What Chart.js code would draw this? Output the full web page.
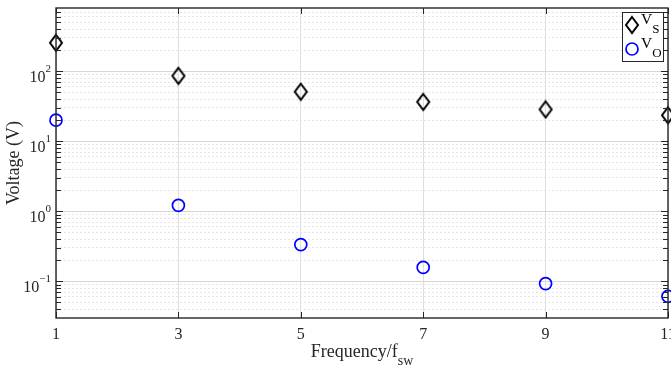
<!DOCTYPE html>
<html>
<head>
<meta charset="utf-8">
<script src="https://cdn.jsdelivr.net/npm/chart.js@4.4.1/dist/chart.umd.min.js"></script>
<style>
  html, body { margin: 0; padding: 0; background: #fff; }
</style>
</head>
<body>
<canvas id="chart" width="671" height="373"></canvas>
<script>
// harmonic order (x) and voltages
const harmonics = [1, 3, 5, 7, 9, 11]
const vs = [255, 86, 51, 36.5, 28.5, 23.5]
const vo = [20, 1.22, 0.335, 0.158, 0.093, 0.061]
const xTickValues = [1, 3, 5, 7, 9, 11]
const yDecades = [-1, 0, 1, 2]
const yMin = 0.03
const yMax = 800

const serif = "'Liberation Serif', 'Times New Roman', serif"
const axisColor = '#262626'

const isDecade = v => Math.abs(Math.log10(v) - Math.round(Math.log10(v))) < 1e-9

function diamondImage() {
  const c = document.createElement('canvas')
  c.width = 16; c.height = 20
  const g = c.getContext('2d')
  g.strokeStyle = '#000'
  g.lineWidth = 2
  g.beginPath()
  g.moveTo(8, 2); g.lineTo(14, 10); g.lineTo(8, 18); g.lineTo(2, 10)
  g.closePath()
  g.stroke()
  return c
}
const diamond = diamondImage()

function supText(ctx, base, sup, xRight, yBase) {
  ctx.font = '16px ' + serif
  const wb = ctx.measureText(base).width
  ctx.font = '11px ' + serif
  const ws = ctx.measureText(sup).width
  const x0 = xRight - wb - ws
  ctx.font = '16px ' + serif
  ctx.fillText(base, x0, yBase)
  ctx.font = '11px ' + serif
  ctx.fillText(sup, x0 + wb, yBase - 10)
}

const decor = {
  id: 'decor',
  afterDraw(chart) {
    const { ctx, chartArea: a, scales: { x, y } } = chart
    ctx.save()
    ctx.strokeStyle = axisColor
    ctx.fillStyle = axisColor
    ctx.lineWidth = 1
    const seg = (x1, y1, x2, y2) => { ctx.beginPath(); ctx.moveTo(x1, y1); ctx.lineTo(x2, y2); ctx.stroke() }
    // inward tick marks
    y.ticks.forEach(t => {
      const py = Math.round(y.getPixelForValue(t.value)) + 0.5
      const len = isDecade(t.value) ? 7 : 5
      seg(a.left, py, a.left + len, py)
      seg(a.right, py, a.right - len, py)
    })
    x.ticks.forEach(t => {
      const px = Math.round(x.getPixelForValue(t.value)) + 0.5
      seg(px, a.bottom, px, a.bottom - 6)
      seg(px, a.top, px, a.top + 6)
    })
    // box
    ctx.lineWidth = 1.4
    ctx.strokeRect(a.left, a.top, a.right - a.left, a.bottom - a.top)

    // y tick labels 10^n
    ctx.textBaseline = 'alphabetic'
    yDecades.forEach(e => {
      const py = y.getPixelForValue(Math.pow(10, e))
      supText(ctx, '10', String(e).replace('-', '\u2212'), 51, py + 11)
    })

    // axis titles
    ctx.fillStyle = axisColor
    const main = 'Frequency/f'
    ctx.font = '18px ' + serif
    const wm = ctx.measureText(main).width
    ctx.font = '14px ' + serif
    const wsub = ctx.measureText('sw').width
    const cx = (a.left + a.right) / 2
    const x0 = cx - (wm + wsub) / 2
    ctx.font = '18px ' + serif
    ctx.fillText(main, x0, 357)
    ctx.font = '14px ' + serif
    ctx.fillText('sw', x0 + wm, 365)

    ctx.save()
    ctx.translate(19, (a.top + a.bottom) / 2)
    ctx.rotate(-Math.PI / 2)
    ctx.font = '18px ' + serif
    ctx.textAlign = 'center'
    ctx.fillText('Voltage (V)', 0, 0)
    ctx.restore()

    // legend
    const lx = 622, ly = 12, lw = 41, lh = 49
    ctx.fillStyle = '#fff'
    ctx.fillRect(lx, ly, lw, lh)
    ctx.strokeStyle = axisColor
    ctx.lineWidth = 1
    ctx.strokeRect(lx + 0.5, ly + 0.5, lw, lh)
    const items = [
      { sub: 'S', my: 25, draw: (mx, my) => ctx.drawImage(diamond, mx - 8, my - 10) },
      { sub: 'O', my: 49, draw: (mx, my) => {
          ctx.strokeStyle = '#0000ff'; ctx.lineWidth = 1.7
          ctx.beginPath(); ctx.arc(mx, my, 6, 0, Math.PI * 2); ctx.stroke()
        } }
    ]
    items.forEach(it => {
      it.draw(632, it.my)
      ctx.fillStyle = '#000'
      ctx.font = '15.5px ' + serif
      ctx.fillText('V', 641, it.my - 1)
      const wv = ctx.measureText('V').width
      ctx.font = '13px ' + serif
      ctx.fillText(it.sub, 641 + wv, it.my + 8)
    })
    ctx.restore()
  }
}

new Chart(document.getElementById('chart'), {
  type: 'scatter',
  data: {
    datasets: [
      {
        label: 'VS',
        data: harmonics.map((h, i) => ({ x: h, y: vs[i] })),
        pointStyle: diamond,
        showLine: false,
        clip: false
      },
      {
        label: 'VO',
        data: harmonics.map((h, i) => ({ x: h, y: vo[i] })),
        pointStyle: 'circle',
        pointRadius: 6,
        pointHoverRadius: 6,
        borderColor: '#0000ff',
        backgroundColor: 'rgba(0,0,0,0)',
        pointBorderWidth: 1.7,
        showLine: false,
        clip: false
      }
    ]
  },
  options: {
    animation: false,
    responsive: false,
    maintainAspectRatio: false,
    events: [],
    layout: { autoPadding: false, padding: { top: 8, right: 3, left: 0, bottom: 0 } },
    plugins: { legend: { display: false }, tooltip: { enabled: false } },
    scales: {
      x: {
        type: 'linear',
        min: 1,
        max: 11,
        afterBuildTicks: s => { s.ticks = xTickValues.map(v => ({ value: v })) },
        afterFit: s => { s.height = 55; s.paddingLeft = 0; s.paddingRight = 0 },
        grid: { color: '#dedede', lineWidth: 1, drawTicks: false },
        border: { display: false },
        ticks: {
          color: axisColor,
          padding: 7,
          maxRotation: 0,
          font: { family: serif, size: 16 }
        }
      },
      y: {
        type: 'logarithmic',
        min: yMin,
        max: yMax,
        afterBuildTicks: s => {
          const t = []
          for (let e = -2; e <= 2; e++) {
            for (let m = 1; m <= 9; m++) {
              const v = m * Math.pow(10, e)
              if (v > yMin && v < yMax) t.push({ value: v })
            }
          }
          s.ticks = t
        },
        afterFit: s => { s.width = 56; s.paddingTop = 0; s.paddingBottom = 0 },
        grid: {
          drawTicks: false,
          color: c => isDecade(c.tick.value) ? '#d6d6d6' : '#e6e6e6',
          lineWidth: 1
        },
        border: {
          display: false,
          dash: c => (c.tick && isDecade(c.tick.value)) ? [] : [2, 2]
        },
        ticks: { display: false }
      }
    }
  },
  plugins: [decor]
})
</script>
</body>
</html>
